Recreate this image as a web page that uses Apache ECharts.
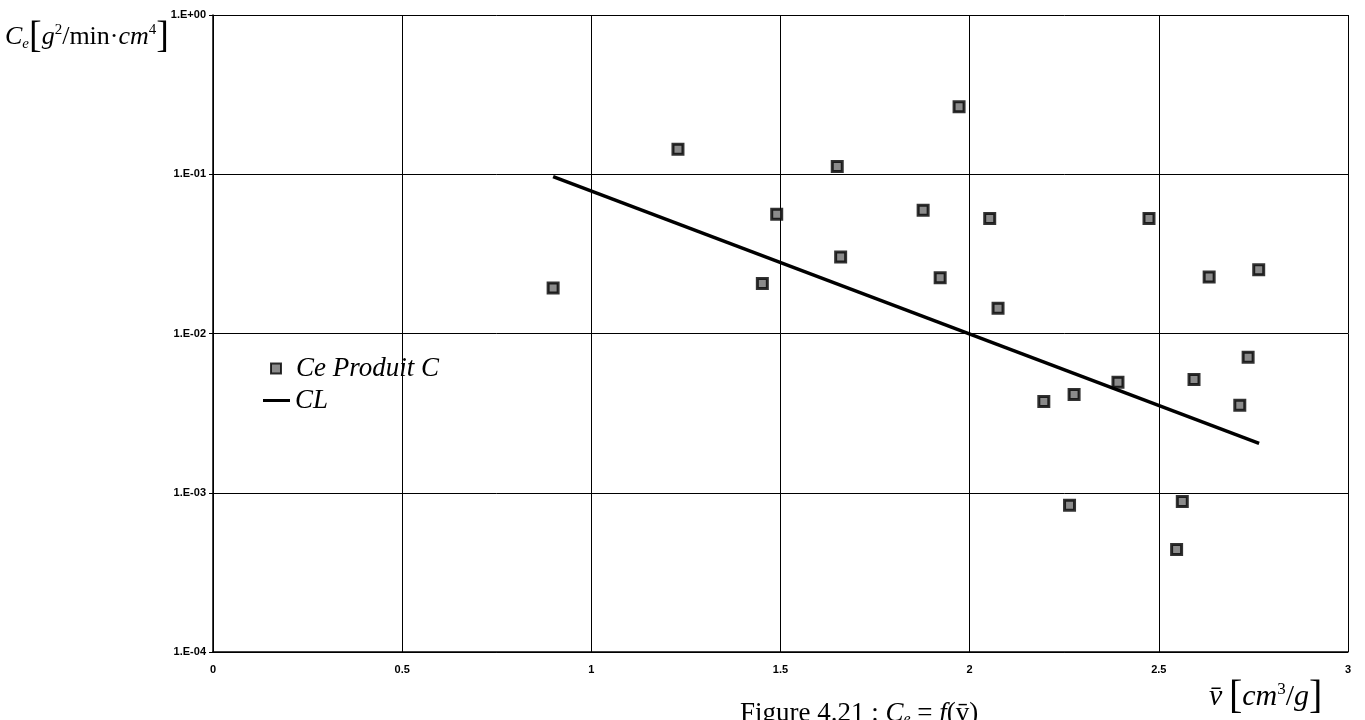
<!DOCTYPE html>
<html>
<head>
<meta charset="utf-8">
<style>
  html, body { margin: 0; padding: 0; background: #fff; }
  #chart { width: 1365px; height: 720px; }
</style>
<script src="https://cdn.jsdelivr.net/npm/echarts@6/dist/echarts.min.js"></script>
</head>
<body>
<div id="chart"></div>
<script>
// Ce Produit C : (v, Ce)
const produitV = [0.899, 1.229, 1.452, 1.490, 1.650, 1.659, 1.877, 1.922, 1.972, 2.053, 2.075,
  2.196, 2.264, 2.276, 2.392, 2.474, 2.547, 2.562, 2.593, 2.633, 2.714, 2.736, 2.764];
const produitCe = [0.0193, 0.1436, 0.0206, 0.0561, 0.1117, 0.0302, 0.0594, 0.0224, 0.265, 0.0528, 0.0144,
  0.00374, 0.000836, 0.00414, 0.00495, 0.0528, 0.00044, 0.00088, 0.00515, 0.0226, 0.00354, 0.0071, 0.0251];

// CL : droite de corrélation
const clV = [0.899, 2.765];
const clCe = [0.0966, 0.00204];

const xTicks = [0, 0.5, 1, 1.5, 2, 2.5, 3];
const yTickLabels = ["1.E-04", "1.E-03", "1.E-02", "1.E-01", "1.E+00"];

function yLabel(value) {
  const exp = Math.round(Math.log10(value));
  return yTickLabels[exp + 4] || "";
}

const chart = echarts.init(document.getElementById("chart"));

const serif = "'Liberation Serif', 'Times New Roman', serif";
const labelFont = {
  color: "#000",
  fontFamily: "'Liberation Sans', Arial, sans-serif",
  fontWeight: "bold",
  fontSize: 11
};
const legendText = {
  color: "#000",
  fontFamily: serif,
  fontStyle: "italic",
  fontSize: 27
};

chart.setOption({
  backgroundColor: "#fff",
  animation: false,
  grid: {
    left: 213,
    right: 17,
    top: 15,
    bottom: 68
  },
  legend: [
    {
      left: 265,
      top: 350,
      itemWidth: 10,
      itemHeight: 10,
      textStyle: { ...legendText, padding: [0, 0, 0, 10] },
      data: [{ name: "Ce Produit C", icon: "rect" }]
    },
    {
      left: 258,
      top: 382,
      itemWidth: 27,
      itemHeight: 3,
      textStyle: { ...legendText, padding: [0, 0, 0, 0] },
      data: [{ name: "CL", icon: "rect", itemStyle: { color: "#000", borderWidth: 0 } }]
    }
  ],
  xAxis: {
    type: "value",
    min: xTicks[0],
    max: xTicks[xTicks.length - 1],
    interval: 0.5,
    axisLine: { lineStyle: { color: "#000", width: 1.5 } },
    axisTick: { show: false },
    axisLabel: {
      ...labelFont,
      margin: 12,
      formatter: (v) => String(v)
    },
    splitLine: { lineStyle: { color: "#000", width: 1 } }
  },
  yAxis: {
    type: "log",
    logBase: 10,
    min: 1e-4,
    max: 1,
    axisLine: { show: true, lineStyle: { color: "#000", width: 1.5 } },
    axisTick: { show: true, length: 4, lineStyle: { color: "#000" } },
    axisLabel: {
      ...labelFont,
      margin: 7,
      formatter: yLabel
    },
    splitLine: { lineStyle: { color: "#000", width: 1 } },
    minorTick: { show: false }
  },
  graphic: [
    {
      type: "text",
      left: 5,
      top: 18,
      style: {
        text: "{c|C}{e|e}{b|[}{g|g}{s|2}{n|/min·}{g|cm}{s|4}{b|]}",
        fill: "#000",
        rich: {
          c: { fontFamily: serif, fontStyle: "italic", fontSize: 26, fill: "#000" },
          e: { fontFamily: serif, fontStyle: "italic", fontSize: 15, fill: "#000", padding: [14, 0, 0, 0] },
          b: { fontFamily: serif, fontSize: 38, fill: "#000" },
          g: { fontFamily: serif, fontStyle: "italic", fontSize: 26, fill: "#000" },
          s: { fontFamily: serif, fontSize: 15, fill: "#000", padding: [0, 0, 14, 0] },
          n: { fontFamily: serif, fontSize: 26, fill: "#000" }
        }
      }
    },
    {
      type: "text",
      left: 1209,
      top: 677,
      style: {
        text: "{v|v̄}  {b|[}{g|cm}{s|3}{n|/}{g|g}{b|]}",
        fill: "#000",
        rich: {
          v: { fontFamily: serif, fontStyle: "italic", fontSize: 30, fill: "#000" },
          b: { fontFamily: serif, fontSize: 40, fill: "#000" },
          g: { fontFamily: serif, fontStyle: "italic", fontSize: 30, fill: "#000" },
          s: { fontFamily: serif, fontSize: 17, fill: "#000", padding: [0, 0, 15, 0] },
          n: { fontFamily: serif, fontSize: 30, fill: "#000" }
        }
      }
    },
    {
      type: "text",
      left: 740,
      top: 700,
      style: {
        text: "Figure 4.21 : {i|C}{e|e} = {i|f}(v̄)",
        fill: "#000",
        fontFamily: serif,
        fontSize: 27,
        rich: {
          i: { fontFamily: serif, fontStyle: "italic", fontSize: 27, fill: "#000" },
          e: { fontFamily: serif, fontStyle: "italic", fontSize: 16, fill: "#000", padding: [12, 0, 0, 0] }
        }
      }
    }
  ],
  series: [
    {
      name: "Ce Produit C",
      type: "scatter",
      symbol: "rect",
      symbolSize: 10,
      itemStyle: {
        color: "#6e6e6e",
        borderColor: "#000",
        borderWidth: 3
      },
      data: produitV.map((v, i) => [v, produitCe[i]]),
      z: 3
    },
    {
      name: "CL",
      type: "line",
      symbol: "none",
      lineStyle: { color: "#000", width: 3.5 },
      itemStyle: { color: "#000" },
      data: clV.map((v, i) => [v, clCe[i]]),
      z: 2
    }
  ]
});
</script>
</body>
</html>
